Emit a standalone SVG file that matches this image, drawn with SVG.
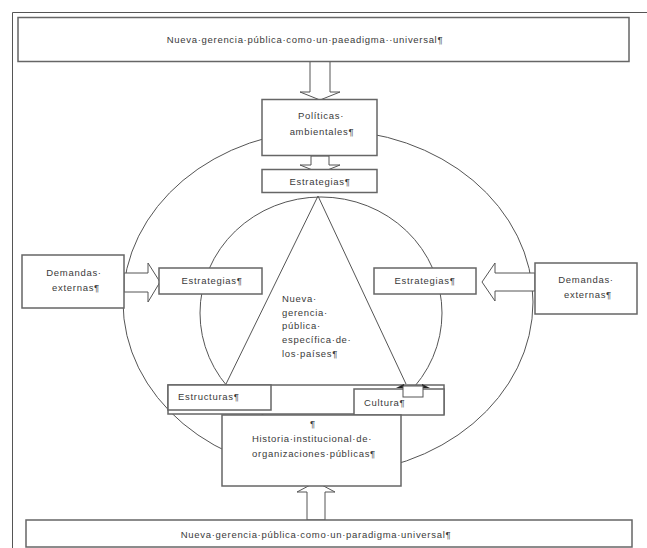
<svg xmlns="http://www.w3.org/2000/svg" width="647" height="548" viewBox="0 0 647 548">
<style>
.box{fill:#fff;stroke:#666;stroke-width:1.5}
.ln{fill:none;stroke:#555;stroke-width:1}
.arr{fill:#fff;stroke:#555;stroke-width:1}
text{font-family:"Liberation Sans",Arial,sans-serif;font-size:9.5px;fill:#3a3a3a;letter-spacing:0.7px}
.c{text-anchor:middle}
</style>
<rect width="647" height="548" fill="#fff"/>
<g id="frame"><path class="ln" d="M12.5,548 V12.5 H647" stroke="#777" stroke-width="1.5"/></g>
<g id="shapes">
<ellipse class="ln" cx="328" cy="302" rx="205" ry="172"/>
<ellipse class="ln" cx="321" cy="313" rx="121" ry="116"/>
</g>
<g id="connectors">
<polyline class="ln" points="226,384 318,196 406,384"/>
<polygon class="arr" points="310,61 330,61 330,92 340,92 320,100 300,92 310,92"/>
<polygon class="arr" points="311,156 329,156 329,165 340,165 320,173 300,165 311,165"/>
<polygon class="arr" points="124,273 148,273 148,263 160,282 148,302 148,292 124,292"/>
<polygon class="arr" points="535,273 495,273 495,263 482,282 495,301 495,291 535,291"/>
<polygon class="arr" points="307,520 325,520 325,492 335,492 316,482 297,492 307,492"/>
</g>
<g id="top">
<rect class="box" x="18" y="17.5" width="611" height="44"/>
<text class="c" x="305" y="43">Nueva·gerencia·pública·como·un·paeadigma··universal¶</text>
</g>
<g id="politicas">
<rect class="box" x="262" y="99.5" width="115" height="56"/>
<text class="c" x="321" y="118.5">Políticas·</text>
<text class="c" x="322" y="135">ambientales¶</text>
</g>
<g id="estrategias-top">
<rect class="box" x="262" y="169.5" width="115" height="23"/>
<text class="c" x="320" y="185">Estrategias¶</text>
</g>
<g id="demandas-left">
<rect class="box" x="22" y="255" width="102" height="53"/>
<text class="c" x="74" y="276">Demandas·</text>
<text class="c" x="76" y="291">externas¶</text>
</g>
<g id="estrategias-left">
<rect class="box" x="159" y="268" width="103" height="26"/>
<text class="c" x="212" y="284">Estrategias¶</text>
</g>
<g id="estrategias-right">
<rect class="box" x="374" y="268" width="102" height="26"/>
<text class="c" x="425" y="284">Estrategias¶</text>
</g>
<g id="demandas-right">
<rect class="box" x="535" y="263" width="102" height="51"/>
<text class="c" x="586" y="283">Demandas·</text>
<text class="c" x="588" y="298">externas¶</text>
</g>
<g id="centro">
<text x="282" y="302" letter-spacing="0.4">Nueva·</text>
<text x="282" y="316" letter-spacing="0.4">gerencia·</text>
<text x="282" y="329" letter-spacing="0.4">pública·</text>
<text x="282" y="343" letter-spacing="0.2">específica·de·</text>
<text x="282" y="357" letter-spacing="0.4">los·países¶</text>
</g>
<g id="banda">
<rect class="box" x="168" y="385" width="276" height="29"/>
</g>
<g id="estructuras">
<rect class="box" x="168" y="385" width="103" height="25"/>
<text x="178" y="400">Estructuras¶</text>
</g>
<g id="cultura">
<rect class="box" x="354" y="389" width="90" height="26"/>
<text x="364" y="406">Cultura¶</text>
<path d="M396,388 L404,384 L404,388 Z M430,388 L422,384 L422,388 Z" fill="#222"/>
<rect x="403" y="386" width="20" height="11" fill="#fff" stroke="#555" stroke-width="1"/>
</g>
<g id="historia">
<rect class="box" x="222" y="415" width="179" height="71"/>
<text class="c" x="313" y="427">¶</text>
<text class="c" x="312" y="442">Historia·institucional·de·</text>
<text class="c" x="314" y="457">organizaciones·públicas¶</text>
</g>
<g id="bottom">
<rect class="box" x="26" y="520" width="606" height="27"/>
<text class="c" x="316" y="538">Nueva·gerencia·pública·como·un·paradigma·universal¶</text>
</g>
</svg>
